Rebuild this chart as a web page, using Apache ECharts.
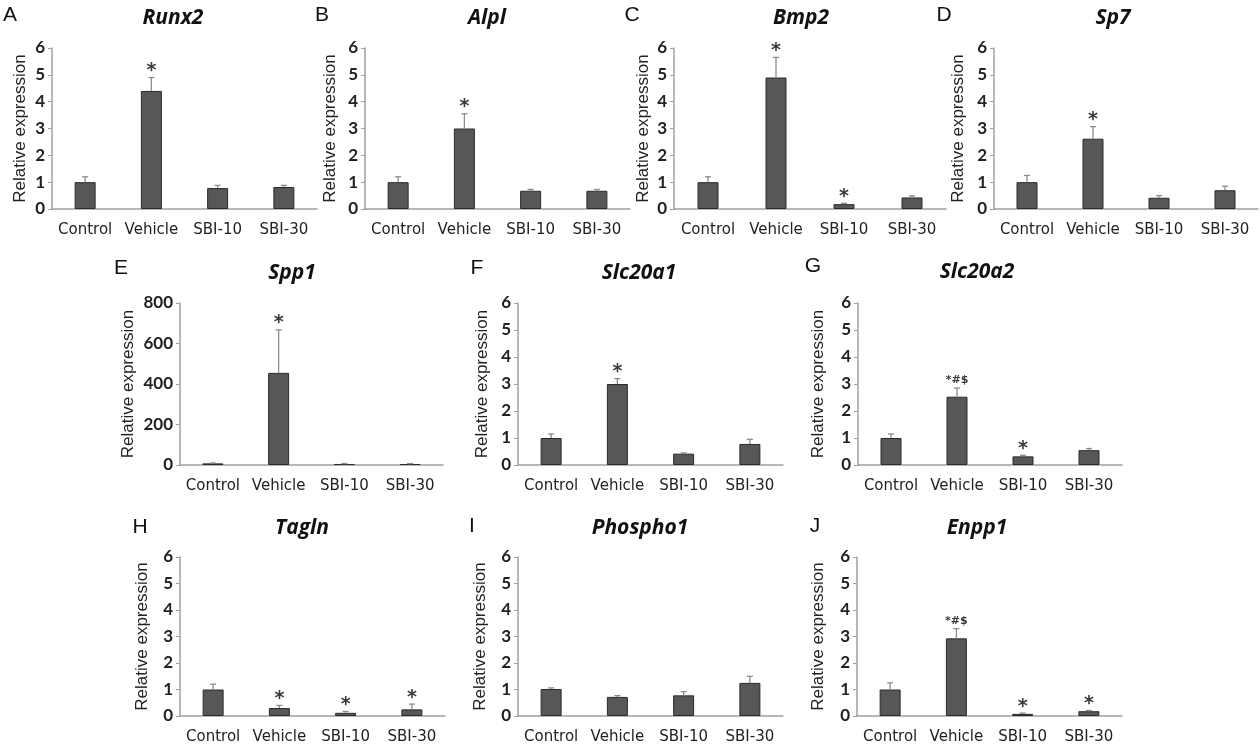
<!DOCTYPE html>
<html>
<head>
<meta charset="utf-8">
<title>Relative expression</title>
<script src="https://cdn.jsdelivr.net/npm/echarts@6/dist/echarts.min.js"></script>
<style>
  html, body { margin: 0; padding: 0; background: #fff; }
  #chart { width: 1260px; height: 749px; }
</style>
</head>
<body>
<div id="chart"></div>
<script>
// categories and panel names
const categories = ['Control', 'Vehicle', 'SBI-10', 'SBI-30'];
const panelLetters = ['A', 'B', 'C', 'D', 'E', 'F', 'G', 'H', 'I', 'J'];
const geneNames = ['Runx2', 'Alpl', 'Bmp2', 'Sp7', 'Spp1', 'Slc20a1', 'Slc20a2', 'Tagln', 'Phospho1', 'Enpp1'];

// mean values, error (upper SD) and significance marks
const runx2Mean = [1.0, 4.4, 0.78, 0.82];
const runx2Err = [0.2, 0.5, 0.1, 0.06];
const runx2Sig = ['', '*', '', ''];

const alplMean = [1.0, 3.0, 0.68, 0.68];
const alplErr = [0.2, 0.55, 0.05, 0.05];
const alplSig = ['', '*', '', ''];

const bmp2Mean = [1.0, 4.9, 0.18, 0.43];
const bmp2Err = [0.2, 0.75, 0.03, 0.06];
const bmp2Sig = ['', '*', '*', ''];

const sp7Mean = [1.0, 2.62, 0.42, 0.7];
const sp7Err = [0.25, 0.45, 0.08, 0.15];
const sp7Sig = ['', '*', '', ''];

const spp1Mean = [8, 455, 5, 5];
const spp1Err = [2, 212, 2, 2];
const spp1Sig = ['', '*', '', ''];

const slc20a1Mean = [1.0, 3.0, 0.42, 0.78];
const slc20a1Err = [0.15, 0.2, 0.03, 0.17];
const slc20a1Sig = ['', '*', '', ''];

const slc20a2Mean = [1.0, 2.53, 0.32, 0.55];
const slc20a2Err = [0.15, 0.32, 0.04, 0.06];
const slc20a2Sig = ['', '*#$', '*', ''];

const taglnMean = [1.0, 0.3, 0.12, 0.25];
const taglnErr = [0.2, 0.1, 0.05, 0.2];
const taglnSig = ['', '*', '*', '*'];

const phospho1Mean = [1.02, 0.72, 0.78, 1.25];
const phospho1Err = [0.04, 0.05, 0.14, 0.25];
const phospho1Sig = ['', '', '', ''];

const enpp1Mean = [1.0, 2.93, 0.08, 0.18];
const enpp1Err = [0.25, 0.37, 0.03, 0.03];
const enpp1Sig = ['', '*#$', '*', '*'];

// y axis ranges
const yMaxSmall = 6, yStepSmall = 1;
const yMaxSpp1 = 800, yStepSpp1 = 200;

const means = [runx2Mean, alplMean, bmp2Mean, sp7Mean, spp1Mean, slc20a1Mean, slc20a2Mean, taglnMean, phospho1Mean, enpp1Mean];
const errs = [runx2Err, alplErr, bmp2Err, sp7Err, spp1Err, slc20a1Err, slc20a2Err, taglnErr, phospho1Err, enpp1Err];
const sigs = [runx2Sig, alplSig, bmp2Sig, sp7Sig, spp1Sig, slc20a1Sig, slc20a2Sig, taglnSig, phospho1Sig, enpp1Sig];

// panel layout: plot area [left, top, width, height], y-name gap, letter pos, title pos
const grids = [
  [52, 48, 265, 161], [365, 48, 265, 161], [674, 48, 272, 161], [994, 48, 264, 161],
  [180, 303, 263, 162], [518, 303, 265, 162], [858, 303, 264, 162],
  [180, 557, 265, 159], [518, 557, 265, 159], [857, 557, 265, 159]
];
const nameGaps = [23, 26, 22, 27, 43, 27, 31, 29, 29, 30];
const letterPos = [[10, 15], [322, 15], [632, 15], [944, 15], [121, 268], [477, 268], [813, 266], [140, 527], [472, 526], [815, 526]];
const titlePos = [[173, 18], [487, 18], [801, 18], [1113, 18], [292, 273], [639, 273], [977, 272], [302, 528], [640, 528], [977, 528]];

const axisGray = '#a0a0a0';
const textDark = '#222222';

const chart = echarts.init(document.getElementById('chart'));

const grid = [], xAxis = [], yAxis = [], series = [], graphic = [];

means.forEach((m, p) => {
  const g = grids[p];
  grid.push({ left: g[0], top: g[1], width: g[2], height: g[3], containLabel: false });

  xAxis.push({
    type: 'category',
    gridIndex: p,
    data: categories,
    axisLine: { lineStyle: { color: axisGray, width: 1.5 } },
    axisTick: { show: false },
    axisLabel: { color: textDark, fontFamily: 'DejaVu Sans', fontSize: 15, margin: 14, interval: 0 }
  });

  const isSpp1 = p === 4;
  yAxis.push({
    type: 'value',
    gridIndex: p,
    min: 0,
    max: isSpp1 ? yMaxSpp1 : yMaxSmall,
    interval: isSpp1 ? yStepSpp1 : yStepSmall,
    name: 'Relative expression',
    nameLocation: 'middle',
    nameGap: nameGaps[p],
    nameTextStyle: { color: textDark, fontFamily: 'Liberation Sans', fontSize: 17 },
    axisLine: { show: true, lineStyle: { color: axisGray, width: 1.5 } },
    axisTick: { show: true, inside: false, length: 4, lineStyle: { color: axisGray } },
    splitLine: { show: false },
    axisLabel: { color: textDark, fontFamily: 'Lato', fontWeight: 'bold', fontSize: 17, margin: 7 }
  });

  series.push({
    type: 'bar',
    xAxisIndex: p,
    yAxisIndex: p,
    barWidth: 21,
    data: m,
    itemStyle: { color: '#575757', borderColor: '#2b2b2b', borderWidth: 1 },
    silent: true,
    z: 2
  });

  const e = errs[p];
  const s = sigs[p];
  series.push({
    type: 'custom',
    xAxisIndex: p,
    yAxisIndex: p,
    silent: true,
    z: 3,
    data: m.map((v, i) => [i, v, v + e[i]]),
    renderItem: (params, api) => {
      const i = api.value(0);
      const base = api.coord([i, api.value(1)]);
      const top = api.coord([i, api.value(2)]);
      const children = [
        { type: 'line', shape: { x1: base[0], y1: base[1], x2: top[0], y2: top[1] },
          style: { stroke: '#8c8c8c', lineWidth: 1.3 } },
        { type: 'line', shape: { x1: top[0] - 3, y1: top[1], x2: top[0] + 3, y2: top[1] },
          style: { stroke: '#8c8c8c', lineWidth: 1.3 } }
      ];
      const mark = s[i];
      if (mark) {
        children.push({
          type: 'text',
          x: top[0],
          y: top[1] + (mark.length > 1 ? -2 : 3),
          style: {
            text: mark,
            align: 'center',
            verticalAlign: 'bottom',
            fill: '#3a3a3a',
            font: mark.length > 1 ? 'bold 11px "DejaVu Sans"' : 'bold 19px "DejaVu Sans"'
          }
        });
      }
      return { type: 'group', children: children };
    }
  });

  graphic.push({
    type: 'text',
    x: letterPos[p][0],
    y: letterPos[p][1],
    style: { text: panelLetters[p], align: 'center', verticalAlign: 'middle',
      fill: '#111', font: '21px "Liberation Sans"' }
  });
  graphic.push({
    type: 'text',
    x: titlePos[p][0],
    y: titlePos[p][1],
    style: { text: geneNames[p], align: 'center', verticalAlign: 'middle',
      fill: '#111', font: 'italic bold 21px "Open Sans"' }
  });
});

chart.setOption({
  backgroundColor: '#ffffff',
  animation: false,
  grid: grid,
  xAxis: xAxis,
  yAxis: yAxis,
  series: series,
  graphic: graphic
});
</script>
</body>
</html>
